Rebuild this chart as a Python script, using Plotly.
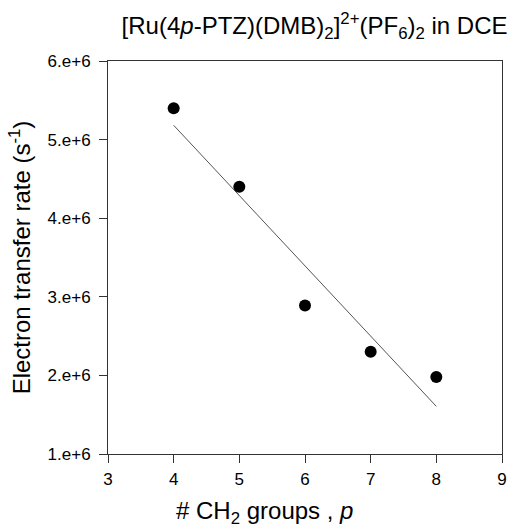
import numpy as np
import plotly.graph_objects as go

ch2_groups = [4, 5, 6, 7, 8]
et_rate = [5.40e6, 4.40e6, 2.89e6, 2.30e6, 1.98e6]

x_tickvals = [3, 4, 5, 6, 7, 8, 9]
x_ticktext = ["3", "4", "5", "6", "7", "8", "9"]
y_tickvals = [1e6, 2e6, 3e6, 4e6, 5e6, 6e6]
y_ticktext = ["1.e+6", "2.e+6", "3.e+6", "4.e+6", "5.e+6", "6.e+6"]

slope, intercept = np.polyfit(ch2_groups, et_rate, 1)
fit_x = [min(ch2_groups), max(ch2_groups)]
fit_y = [slope * v + intercept for v in fit_x]

font = "Liberation Sans, Arial, sans-serif"

fig = go.Figure()
fig.add_trace(go.Scatter(x=fit_x, y=fit_y, mode="lines",
                         line=dict(color="#555555", width=1), showlegend=False))
fig.add_trace(go.Scatter(x=ch2_groups, y=et_rate, mode="markers",
                         marker=dict(color="black", size=12), showlegend=False))

fig.update_layout(
    width=509, height=527,
    margin=dict(l=108, r=7, t=61, b=73),
    paper_bgcolor="white", plot_bgcolor="white",
    font=dict(family=font, color="black"),
    title=dict(text="[Ru(4<i>p</i>-PTZ)(DMB)<sub>2</sub>]<sup>2+</sup>(PF<sub>6</sub>)<sub>2</sub> in DCE",
               x=0.618, xanchor="center", y=0.952, yanchor="middle",
               font=dict(size=24, family=font, color="black")),
    xaxis=dict(range=[3, 9], tickvals=x_tickvals, ticktext=x_ticktext,
               ticks="outside", ticklen=8, tickcolor="#333", showline=True,
               linecolor="#333", linewidth=1, mirror=True, showgrid=False,
               zeroline=False, tickfont=dict(size=17), automargin=False,
               ticklabeloverflow="allow", ticklabelstandoff=2),
    yaxis=dict(range=[1e6, 6e6], tickvals=y_tickvals, ticktext=y_ticktext,
               ticks="outside", ticklen=8, tickcolor="#333", showline=True,
               linecolor="#333", linewidth=1, mirror=True, showgrid=False,
               zeroline=False, tickfont=dict(size=17), automargin=False,
               ticklabeloverflow="allow", ticklabelstandoff=5,
               title=dict(text="Electron transfer rate (s<sup>-1</sup>)",
                          font=dict(size=24), standoff=10)),
)
fig.add_annotation(text="# CH<sub>2</sub> groups , <i>p</i>",
                   xref="paper", yref="paper", x=0.398, y=-0.148,
                   xanchor="center", yanchor="middle", showarrow=False,
                   font=dict(size=24, family=font, color="black"))

fig.write_html("out.html", config={"displayModeBar": False},
               post_script="document.body.style.margin='0px';")
